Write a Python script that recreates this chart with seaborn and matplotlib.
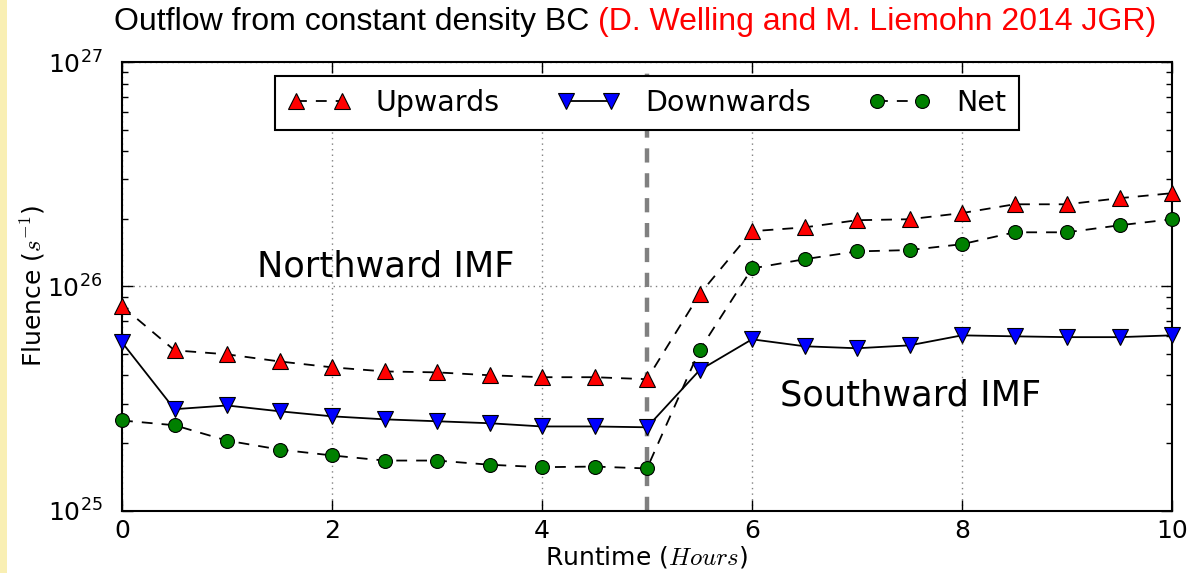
import matplotlib
matplotlib.use("Agg")
import matplotlib.pyplot as plt
import seaborn as sns
import numpy as np
import pandas as pd
from matplotlib.patches import Rectangle

# Runtime in hours and the outflow fluence for each direction (s^-1)
runtime = [0, 0.5, 1, 1.5, 2, 2.5, 3, 3.5, 4, 4.5, 5,
           5.5, 6, 6.5, 7, 7.5, 8, 8.5, 9, 9.5, 10]
upwards = [8.15e25, 5.18e25, 4.97e25, 4.62e25, 4.35e25, 4.17e25, 4.13e25,
           4.01e25, 3.93e25, 3.93e25, 3.85e25, 9.2e25, 1.76e26, 1.83e26,
           1.97e26, 1.99e26, 2.12e26, 2.32e26, 2.32e26, 2.47e26, 2.60e26]
downwards = [5.62e25, 2.83e25, 2.94e25, 2.77e25, 2.63e25, 2.55e25, 2.50e25,
             2.45e25, 2.37e25, 2.37e25, 2.35e25, 4.22e25, 5.8e25, 5.4e25,
             5.29e25, 5.45e25, 6.04e25, 5.98e25, 5.93e25, 5.93e25, 6.04e25]
net = [2.52e25, 2.40e25, 2.05e25, 1.87e25, 1.76e25, 1.67e25, 1.67e25,
       1.60e25, 1.56e25, 1.57e25, 1.54e25, 5.18e25, 1.20e26, 1.32e26,
       1.43e26, 1.45e26, 1.54e26, 1.74e26, 1.74e26, 1.87e26, 1.99e26]

series_names = ["Upwards", "Downwards", "Net"]
imf_switch = 5

sns.set_style("ticks")
plt.rcParams["font.family"] = ["DejaVu Sans"]
plt.rcParams["mathtext.fontset"] = "cm"
plt.rcParams["lines.dashed_pattern"] = [6, 5]
plt.rcParams["xtick.direction"] = "in"
plt.rcParams["ytick.direction"] = "in"
for key in ["text.color", "axes.labelcolor", "xtick.color", "ytick.color",
            "axes.edgecolor"]:
    plt.rcParams[key] = "black"

df = pd.DataFrame({"Runtime": runtime, "Upwards": upwards,
                   "Downwards": downwards, "Net": net})

W, H = 1193, 573
fig = plt.figure(figsize=(W / 100, H / 100), dpi=100)
fig.patch.set_facecolor("white")
fig.patches.append(Rectangle((0, 0), 7 / W, 1, transform=fig.transFigure,
                             facecolor="#f9efb3", edgecolor="none", zorder=-1))

ax = fig.add_axes([122 / W, 1 - 510.5 / H, (1172 - 122) / W, (510.5 - 62) / H])

styles = {
    "Upwards": dict(marker="^", color="red", linestyle="--", markersize=11.5),
    "Downwards": dict(marker="v", color="blue", linestyle="-", markersize=11.5),
    "Net": dict(marker="o", color="green", linestyle="--", markersize=10),
}
for name in series_names:
    st = styles[name]
    sns.lineplot(data=df, x="Runtime", y=name, ax=ax, label=name,
                 color="black", linestyle=st["linestyle"], linewidth=1.3,
                 marker=st["marker"], markersize=st["markersize"],
                 markerfacecolor=st["color"], markeredgecolor="black",
                 markeredgewidth=0.8, clip_on=False, zorder=3)

ax.axvline(imf_switch, color="gray", linewidth=3.2, linestyle=(0, (3.2, 2.4)),
           zorder=2)

ax.set_yscale("log")
ax.set_xlim(0, 10)
ax.set_ylim(1e25, 1e27)
ax.set_xticks([0, 2, 4, 6, 8, 10])
ax.grid(True, which="major", color="gray", linestyle=(0, (1, 3)), linewidth=1)
ax.tick_params(axis="both", which="both", top=True, right=True,
               labelsize=18, width=1, color="black")
ax.tick_params(axis="both", which="major", length=8)
ax.tick_params(axis="y", which="minor", length=4)
ax.tick_params(axis="y", which="both", pad=14)
ax.tick_params(axis="x", which="both", pad=6)
for sp in ax.spines.values():
    sp.set_linewidth(1.5)
    sp.set_color("black")

ax.set_xlabel(r"Runtime ($Hours$)", fontsize=18, labelpad=1)
ax.set_ylabel(r"Fluence ($s^{-1}$)", fontsize=18, labelpad=0)

ax.text(1.29, 1.23e26, "Northward IMF", fontsize=25.3, ha="left", va="center")
ax.text(6.27, 3.26e25, "Southward IMF", fontsize=25.3, ha="left", va="center")

leg = ax.legend(loc="upper center", bbox_to_anchor=(0.5, 0.969), ncol=3,
                numpoints=2, fontsize=20.5, frameon=True, fancybox=False,
                edgecolor="black", framealpha=1, handlelength=2.2,
                columnspacing=2.0, borderpad=0.45, handletextpad=0.9,
                borderaxespad=0)
leg.get_frame().set_linewidth(1.5)

# Two-colour title: black description followed by the red citation
t1 = fig.text(114 / W, 1 - 22 / H, "Outflow from constant density BC ",
              fontsize=23, family="Liberation Sans", ha="left", va="center",
              color="black")
fig.canvas.draw()
bb = t1.get_window_extent(fig.canvas.get_renderer())
fig.text(bb.x1 / W, 1 - 22 / H, "(D. Welling and M. Liemohn 2014 JGR)",
         fontsize=23, family="Liberation Sans", ha="left", va="center",
         color="red")

fig.savefig("out.png", dpi=100)
